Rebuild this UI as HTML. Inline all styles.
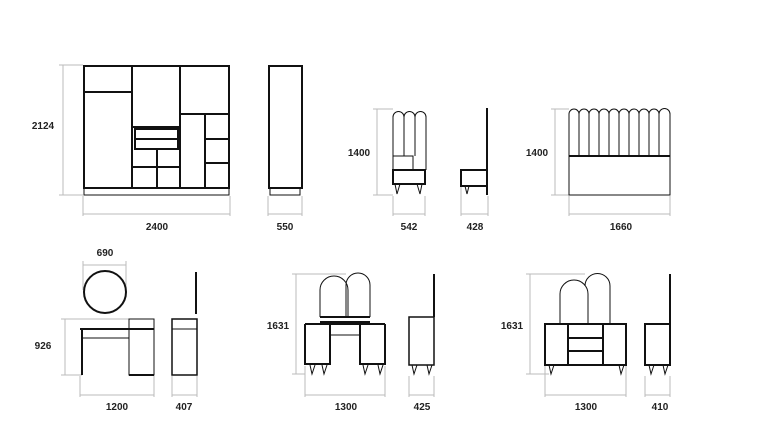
<!DOCTYPE html>
<html><head><style>body{margin:0;background:#fff}svg{display:block}text{font-family:"Liberation Sans",sans-serif;font-size:10px;font-weight:bold;fill:#222;text-anchor:middle}</style></head><body>
<svg width="757" height="443" viewBox="0 0 757 443">
<g stroke="#bbb" stroke-width="1" fill="none">
<path d="M63 65V195M59 65H83M59 195H83M83 196V216M230 196V216M83 214H230"/>
<path d="M268 196V216M302 196V216M268 214H302"/>
<path d="M377 109V195M373 109H393M373 195H393M393 196V216M425 196V216M393 214H425"/>
<path d="M461 186V216M488 196V216M461 214H488"/>
<path d="M555 109V195M551 109H569M551 195H569M569 196V216M670 196V216M569 214H670"/>
<path d="M83 265H126M83 261V290M126 261V290"/>
<path d="M65 319V375M61 319H129M61 375H82M80 376V397M154 376V397M80 395H154"/>
<path d="M172 376V397M197 376V397M172 395H197"/>
<path d="M296 274V374M292 274H346M292 374H305M305 366V397M385 366V397M305 395H385"/>
<path d="M409 376V397M434 376V397M409 395H434"/>
<path d="M530 274V374M526 274H585M526 374H549M545 366V397M626 366V397M545 395H626"/>
<path d="M645 376V397M670 376V397M645 395H670"/>
</g>
<g stroke="#111" stroke-width="2" fill="none">
<rect x="84" y="66" width="145" height="122"/>
<path d="M132 66V188M180 66V188M84 92H132M132 127H180M180 114H229M205 114V188M205 139H229M205 163H229M132 167H180M157 149V188"/>
<rect x="135" y="129" width="43" height="20"/><path d="M135 139H178"/>
<rect x="269" y="66" width="33" height="122"/>
</g>
<g stroke="#111" stroke-width="1" fill="none">
<rect x="84" y="188" width="145" height="7"/>
<rect x="270" y="188" width="30" height="7"/>
<path d="M393 156V117A5.5 5.5 0 0 1 404 117V156M404 156V117A5.5 5.5 0 0 1 415 117V156M415 117A5.5 5.5 0 0 1 426 117V170"/>
<rect x="393" y="156" width="20" height="14"/>
<path d="M569 156V114A5 5 0 0 1 579 114"/>
<path d="M579 156V114A5 5 0 0 1 589 114V156M589 114A5 5 0 0 1 599 114V156M599 114A5 5 0 0 1 609 114V156M609 114A5 5 0 0 1 619 114V156M619 114A5 5 0 0 1 629 114V156M629 114A5 5 0 0 1 639 114V156M639 114A5 5 0 0 1 649 114V156M649 114A5 5 0 0 1 659 114V156M659 114A5 5 0 0 1 670 114V195H569V156H670"/>
<path d="M395 184L397 194L400 184M417 184L420 194L422 184M465 186L467 194L469 186"/>
<rect x="82" y="329" width="47" height="9"/>
<path d="M320 317V290A14 14 0 0 1 348 290V317M346 317V285A12 12 0 0 1 370 285V317"/>
<path d="M330 335H360M310 365L312 374L315 365M322 365L324 374L327 365M363 365L365 374L368 365M378 365L380 374L383 365M412 365L414 374L417 365M427 365L429 374L432 365"/>
<path d="M560 324V294A14 14 0 0 1 588 294V324M585 286A12.5 12.5 0 0 1 610 286V324M549 365L551 374L554 365M619 365L621 374L624 365M649 365L651 374L654 365M663 365L665 374L668 365"/>
<path d="M172 329H197"/>
</g>
<g stroke="#111" stroke-width="2" fill="none">
<rect x="393" y="170" width="32" height="14"/>
<path d="M487 108V195M461 170H487V186H461Z"/>
<path d="M569 156H670"/>
<circle cx="105" cy="292" r="21"/>
<path d="M80 329H154M82 329V375M129 375H154"/>
<rect x="129" y="319" width="25" height="56" stroke-width="1"/>
<rect x="172" y="319" width="25" height="56" stroke-width="1.5"/>
<path d="M196 272V314"/>
<path d="M305 324H385M305 324V364H330V324M360 324V364H385V324M320 317H370M320 322H370"/>
<rect x="409" y="317" width="25" height="48" stroke-width="1.5"/><path d="M434 274V317"/>
<rect x="545" y="324" width="81" height="41"/><path d="M568 324V365M603 324V365M568 338H603M568 351H603"/>
<path d="M645 324H670V365H645ZM670 274V324"/>
</g>
<text x="43" y="129">2124</text><text x="157" y="230">2400</text><text x="285" y="230">550</text>
<text x="359" y="156">1400</text><text x="409" y="230">542</text><text x="475" y="230">428</text>
<text x="537" y="156">1400</text><text x="621" y="230">1660</text>
<text x="105" y="256">690</text><text x="43" y="349">926</text><text x="117" y="410">1200</text><text x="184" y="410">407</text>
<text x="278" y="329">1631</text><text x="346" y="410">1300</text><text x="422" y="410">425</text>
<text x="512" y="329">1631</text><text x="586" y="410">1300</text><text x="660" y="410">410</text>
</svg>
</body></html>
